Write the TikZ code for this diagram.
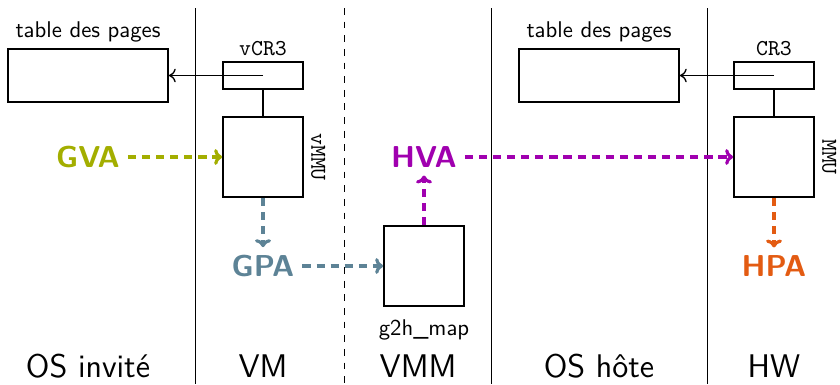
\documentclass[tikz,border=0pt]{standalone}
\usepackage{xcolor}
\usepackage{tikz}
\usetikzlibrary{arrows.meta,positioning}

\definecolor{gvacol}{HTML}{A3AE00}
\definecolor{gpacol}{HTML}{5D8396}
\definecolor{hvacol}{HTML}{A000AF}
\definecolor{hpacol}{HTML}{E35B12}

\begin{document}
\begin{tikzpicture}[
  x=0.44pt,y=-0.44pt,
  font=\sffamily,
  table/.style={draw,thick,minimum width=70.4pt,minimum height=23.3pt},
  reg/.style={draw,thick,minimum width=35.2pt,minimum height=11.9pt},
  unit/.style={draw,thick,minimum size=35.2pt},
  addr/.style={font=\sffamily\bfseries\fontsize{13.3}{16}\selectfont,text=#1},
  trans/.style={draw=#1,line width=1.4pt,dash pattern=on 3.6pt off 2.6pt,-{To[length=3.5pt,width=7pt]}},
  ptr/.style={semithick,-{To[length=3pt,width=6pt]}},
  layer/.style={font=\sffamily\Large}
]
\useasboundingbox (0,0) rectangle (840,384);

% separations between the layers
\draw (195,8) -- (195,384);
\draw[dashed] (344,8) -- (344,384);
\draw (491,8) -- (491,384);
\draw (707,8) -- (707,384);

% guest side
\node[table,label={[label distance=-1pt]above:table des pages}] (gpt) at (88,75.5) {};
\node[reg,label={[label distance=-1pt,font=\ttfamily]above:vCR3}] (vcr) at (263,75.5) {};
\node[unit] (vmmu) at (263,157) {};
\node[rotate=-90,anchor=south,inner sep=3pt,font=\ttfamily] (vmmul) at (vmmu.east) {vMMU};
\node[addr=gvacol] (gva) at (88,157) {GVA};
\node[addr=gpacol] (gpa) at (263,266) {GPA};

% hypervisor
\node[unit,label={[label distance=2pt]below:g2h\_map}] (g2h) at (424,266) {};
\node[addr=hvacol] (hva) at (424,157) {HVA};

% host side
\node[table,label={[label distance=-1pt]above:table des pages}] (hpt) at (599,75.5) {};
\node[reg,label={[label distance=-1pt,font=\ttfamily]above:CR3}] (cr) at (774,75.5) {};
\node[unit] (mmu) at (774,157) {};
\node[rotate=-90,anchor=south,inner sep=3pt,font=\ttfamily] (mmul) at (mmu.east) {MMU};
\node[addr=hpacol] (hpa) at (774,266) {HPA};

\draw[ptr] (vcr.center) -- (gpt.east);
\draw[thick] (vcr) -- (vmmu);
\draw[ptr] (cr.center) -- (hpt.east);
\draw[thick] (cr) -- (mmu);

\draw[trans=gvacol] (gva) -- (vmmu);
\draw[trans=gpacol] (vmmu) -- (gpa);
\draw[trans=gpacol] (gpa) -- (g2h);
\draw[trans=hvacol] (g2h) -- (hva);
\draw[trans=hvacol] (hva) -- (mmu);
\draw[trans=hpacol] (mmu) -- (hpa);

% layer names
\node[layer] (os) at (88,366) {OS invité};
\node[layer] (vm) at (263,366) {VM};
\node[layer] (vmm) at (418,366) {VMM};
\node[layer] (host) at (599,366) {OS hôte};
\node[layer] (hw) at (774,366) {HW};
\end{tikzpicture}
\end{document}
